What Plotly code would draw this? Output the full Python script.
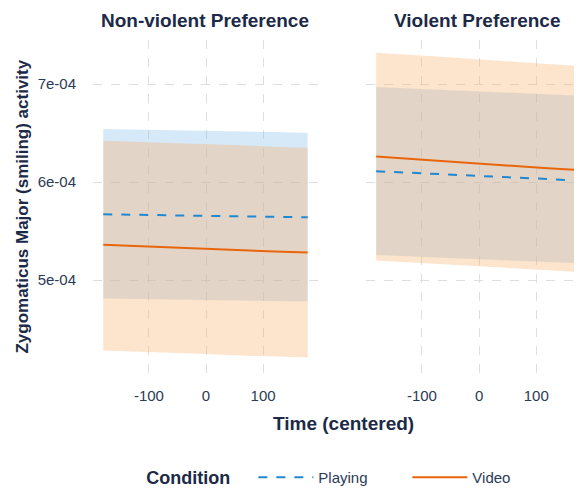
import plotly.graph_objects as go

# ---- data ----
time_pts = [-180, -120, -60, 0, 60, 120, 178]

# Non-violent Preference panel
nv_play_fit = [5.67e-4, 5.665e-4, 5.66e-4, 5.655e-4, 5.65e-4, 5.645e-4, 5.64e-4]
nv_play_lo = [4.81e-4, 4.805e-4, 4.80e-4, 4.795e-4, 4.79e-4, 4.785e-4, 4.78e-4]
nv_play_hi = [6.54e-4, 6.535e-4, 6.53e-4, 6.525e-4, 6.52e-4, 6.51e-4, 6.50e-4]
nv_vid_fit = [5.36e-4, 5.345e-4, 5.33e-4, 5.32e-4, 5.305e-4, 5.29e-4, 5.28e-4]
nv_vid_lo = [4.28e-4, 4.27e-4, 4.255e-4, 4.245e-4, 4.23e-4, 4.22e-4, 4.21e-4]
nv_vid_hi = [6.42e-4, 6.41e-4, 6.40e-4, 6.39e-4, 6.375e-4, 6.36e-4, 6.35e-4]

# Violent Preference panel
v_play_fit = [6.11e-4, 6.095e-4, 6.08e-4, 6.06e-4, 6.045e-4, 6.03e-4, 6.01e-4]
v_play_lo = [5.255e-4, 5.24e-4, 5.225e-4, 5.21e-4, 5.195e-4, 5.18e-4, 5.17e-4]
v_play_hi = [6.97e-4, 6.955e-4, 6.94e-4, 6.925e-4, 6.91e-4, 6.895e-4, 6.88e-4]
v_vid_fit = [6.26e-4, 6.235e-4, 6.21e-4, 6.19e-4, 6.165e-4, 6.14e-4, 6.12e-4]
v_vid_lo = [5.20e-4, 5.18e-4, 5.16e-4, 5.14e-4, 5.12e-4, 5.10e-4, 5.08e-4]
v_vid_hi = [7.32e-4, 7.30e-4, 7.275e-4, 7.25e-4, 7.23e-4, 7.205e-4, 7.18e-4]

panel_titles = ["Non-violent Preference", "Violent Preference"]
conditions = ["Playing", "Video"]
y_tickvals = [5e-4, 6e-4, 7e-4]
y_ticktext = ["5e-04", "6e-04", "7e-04"]
x_tickvals = [-100, 0, 100]
x_ticktext = ["-100", "0", "100"]

# ---- styles ----
BLUE = "#1f88d2"
ORANGE = "#e8650c"
BLUE_FILL = "rgba(138,192,235,0.35)"
ORANGE_FILL = "rgba(249,178,109,0.35)"
TXT = "#1c2a47"
TICK = "#2b3a57"
FONT = "Liberation Sans, Arial, sans-serif"

fig = go.Figure()

panels = [
    ("x", "y", nv_play_fit, nv_play_lo, nv_play_hi, nv_vid_fit, nv_vid_lo, nv_vid_hi),
    ("x2", "y2", v_play_fit, v_play_lo, v_play_hi, v_vid_fit, v_vid_lo, v_vid_hi),
]

for i, (xa, ya, pf, pl, ph, vf, vl, vh) in enumerate(panels):
    for lo, hi, fill in [(pl, ph, BLUE_FILL), (vl, vh, ORANGE_FILL)]:
        fig.add_trace(go.Scatter(x=time_pts, y=lo, mode="lines", line=dict(width=0),
                                 xaxis=xa, yaxis=ya, showlegend=False, hoverinfo="skip"))
        fig.add_trace(go.Scatter(x=time_pts, y=hi, mode="lines", line=dict(width=0),
                                 fill="tonexty", fillcolor=fill,
                                 xaxis=xa, yaxis=ya, showlegend=False, hoverinfo="skip"))
    fig.add_trace(go.Scatter(x=time_pts, y=pf, mode="lines", name=conditions[0],
                             line=dict(color=BLUE, width=2, dash="dash"),
                             legendgroup="p", showlegend=(i == 0), xaxis=xa, yaxis=ya))
    fig.add_trace(go.Scatter(x=time_pts, y=vf, mode="lines", name=conditions[1],
                             line=dict(color=ORANGE, width=2),
                             legendgroup="v", showlegend=(i == 0), xaxis=xa, yaxis=ya))

grid = dict(showgrid=True, gridcolor="#dedede", griddash="dash", gridwidth=1,
            zeroline=False, showline=False, ticks="")

yrange = [4.051e-4, 7.449e-4]
fig.update_layout(
    width=574, height=482,
    margin=dict(l=85, r=0, t=32, b=117, autoexpand=False),
    paper_bgcolor="white", plot_bgcolor="white",
    font=dict(family=FONT, color=TICK, size=15),
    xaxis=dict(domain=[0, 0.46], range=[-198, 196], tickvals=x_tickvals, ticktext=x_ticktext,
               ticklabelstandoff=12, automargin=False, **grid, tickfont=dict(size=15, color=TICK)),
    xaxis2=dict(domain=[0.558, 1], range=[-198, 180], tickvals=x_tickvals, ticktext=x_ticktext,
                ticklabelstandoff=12, automargin=False, **grid, tickfont=dict(size=15, color=TICK)),
    yaxis=dict(range=yrange, tickvals=y_tickvals, ticktext=y_ticktext, anchor="x",
               ticklabelstandoff=16, automargin=False, **grid, tickfont=dict(size=15, color=TICK)),
    yaxis2=dict(range=yrange, tickvals=y_tickvals, ticktext=y_ticktext, anchor="x2",
                showticklabels=False, automargin=False, **grid),
    legend=dict(orientation="h", x=0.105, xanchor="left", y=-0.315, yanchor="middle",
                title=dict(text="<b>Condition</b>&nbsp;&nbsp;&nbsp;",
                           font=dict(size=18, color=TXT), side="left"),
                font=dict(size=15, color=TICK), itemwidth=55, entrywidth=84),
    showlegend=True,
)

for xc, t in [(0.23, panel_titles[0]), (0.787, panel_titles[1])]:
    fig.add_annotation(x=xc, y=1.06, xref="paper", yref="paper", text=f"<b>{t}</b>",
                       showarrow=False, font=dict(size=19, color=TXT),
                       xanchor="center", yanchor="middle")

fig.add_annotation(x=0.512, y=-0.153, xref="paper", yref="paper",
                   text="<b>Time (centered)</b>", showarrow=False,
                   font=dict(size=19, color=TXT), xanchor="center", yanchor="middle")
fig.add_annotation(x=-0.145, y=0.5, xref="paper", yref="paper",
                   text="<b>Zygomaticus Major (smiling) activity</b>", textangle=-90,
                   showarrow=False, font=dict(size=17, color=TXT),
                   xanchor="center", yanchor="middle")

fig.write_html("out.html")
